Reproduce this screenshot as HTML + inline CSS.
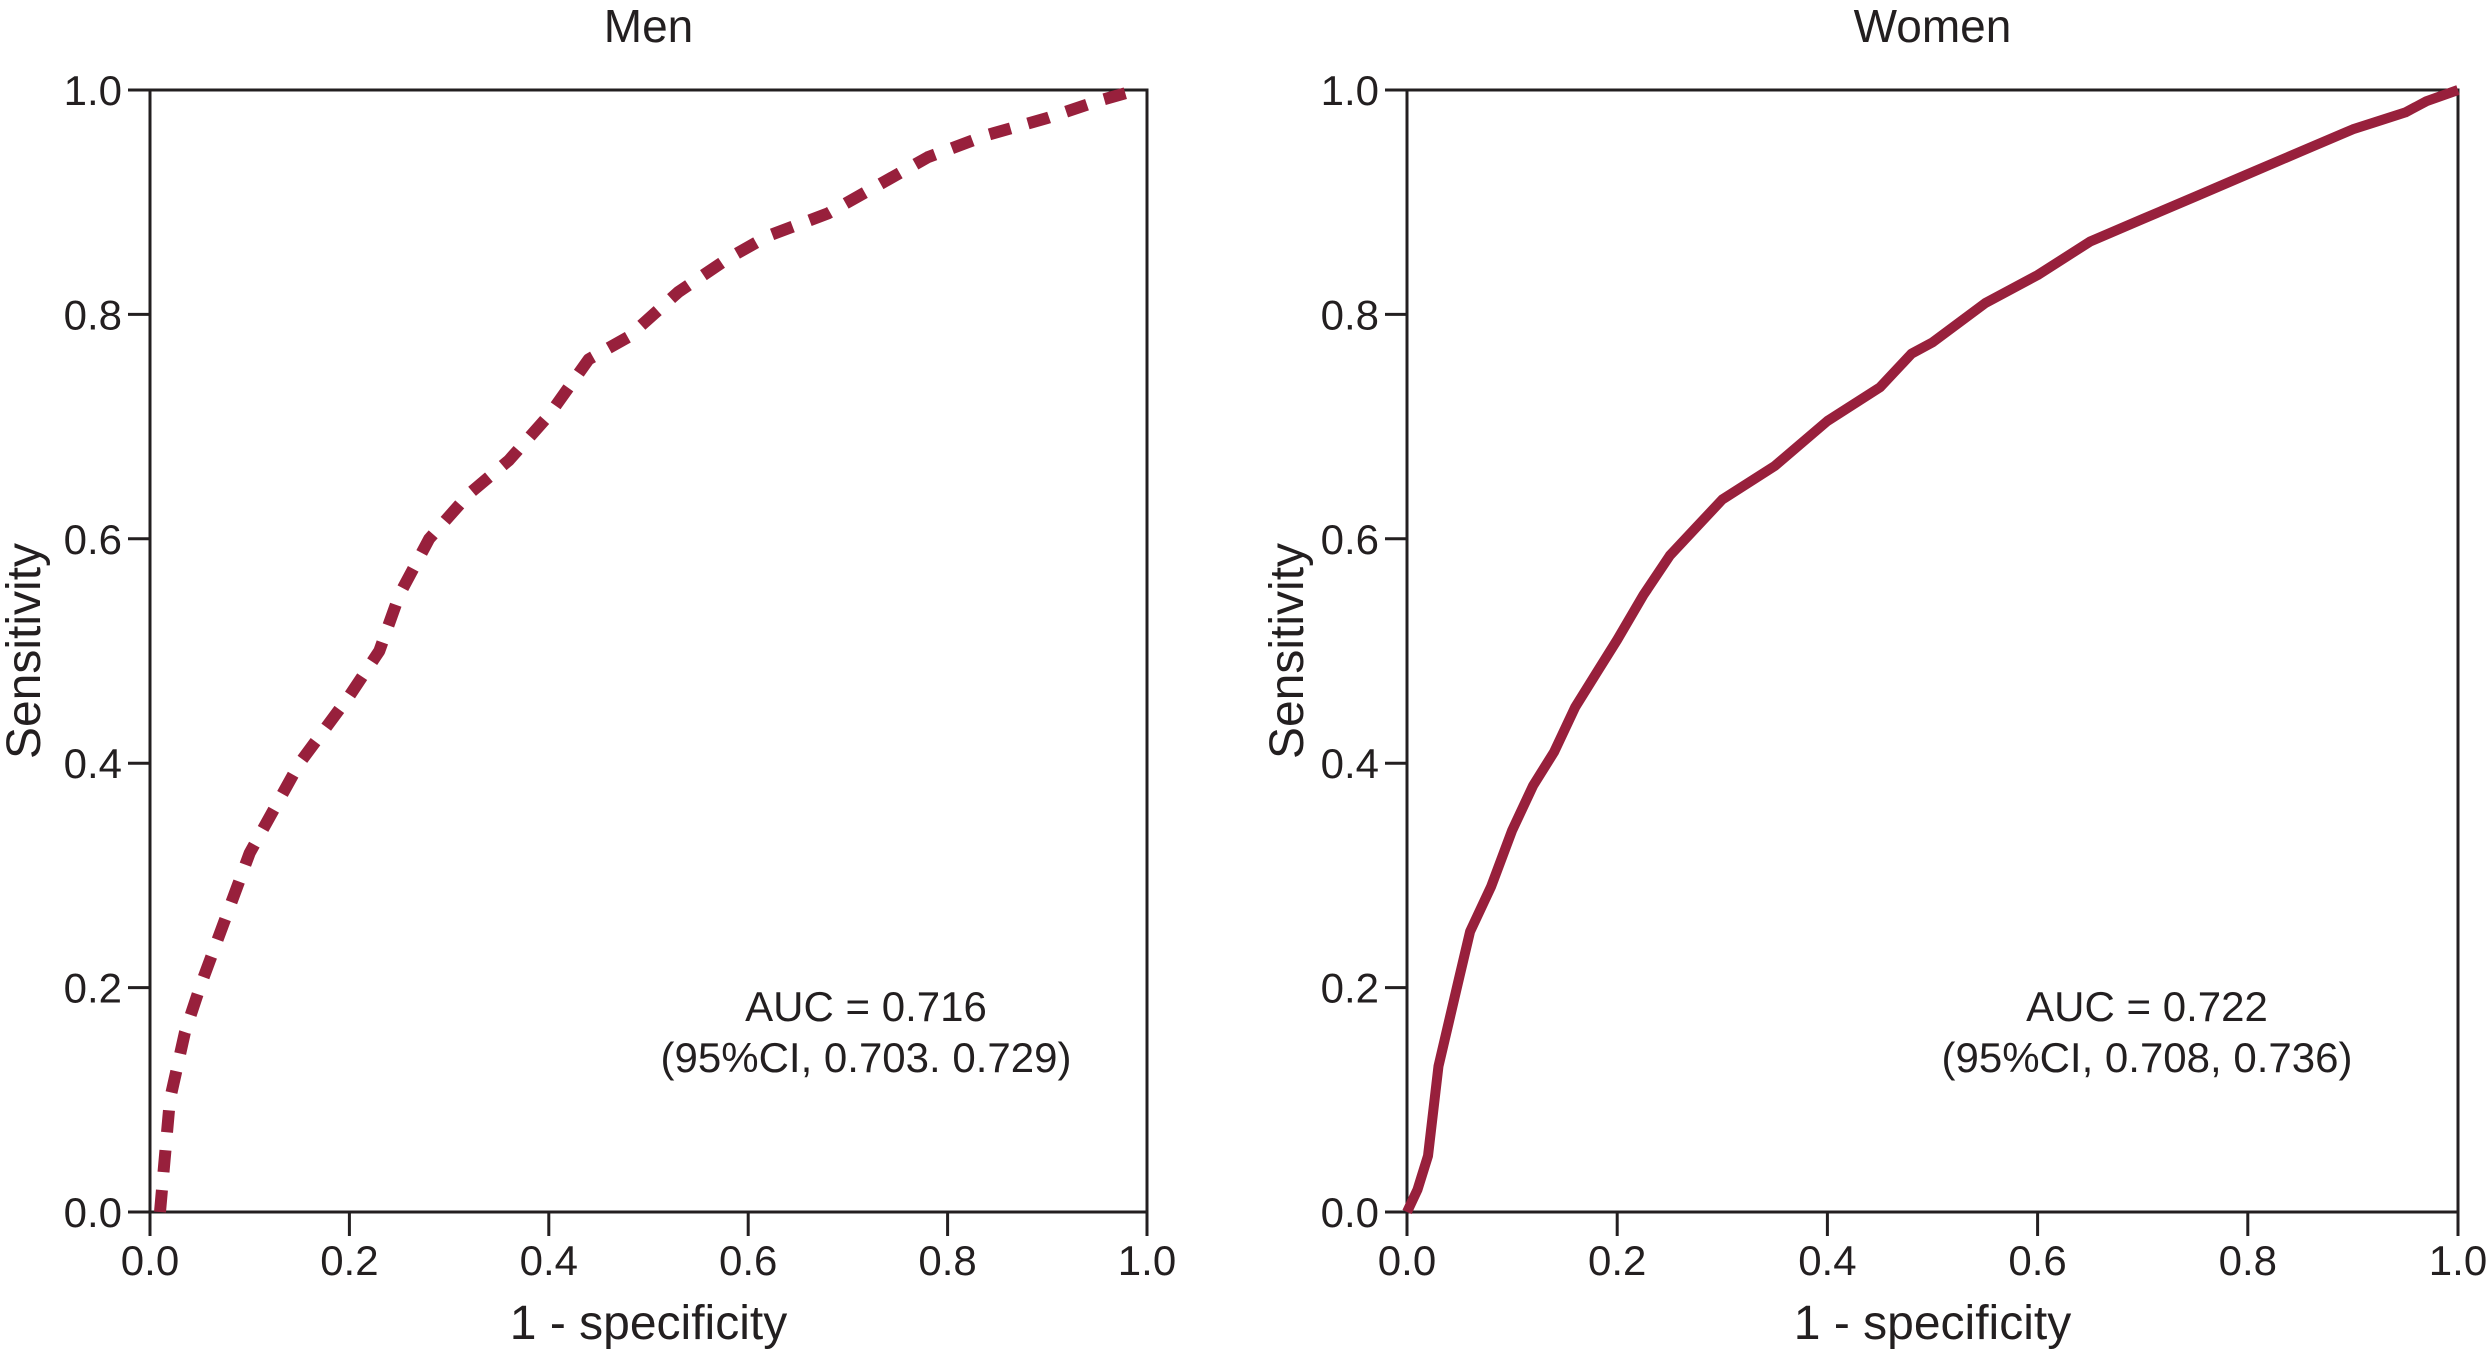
<!DOCTYPE html>
<html><head><meta charset="utf-8">
<style>
html,body{margin:0;padding:0;background:#fff;}
svg{display:block;font-family:"Liberation Sans",Arial,sans-serif;}
</style></head>
<body>
<svg id="fig" width="2492" height="1356" viewBox="0 0 2492 1356"></svg>
<script>
const ticks = [0, 0.2, 0.4, 0.6, 0.8, 1.0];
const tickLabels = ["0.0", "0.2", "0.4", "0.6", "0.8", "1.0"];
const menX = [0.01,0.02,0.035,0.05,0.1,0.15,0.2,0.23,0.25,0.28,0.32,0.36,0.4,0.44,0.48,0.53,0.58,0.62,0.68,0.72,0.78,0.84,0.9,0.95,0.99];
const menY = [0,0.1,0.16,0.2,0.32,0.4,0.46,0.5,0.55,0.6,0.64,0.67,0.71,0.76,0.78,0.82,0.85,0.87,0.89,0.91,0.94,0.96,0.975,0.99,1.0];
const womenX = [0,0.01,0.02,0.03,0.04,0.05,0.06,0.08,0.1,0.12,0.14,0.16,0.18,0.2,0.225,0.25,0.275,0.3,0.35,0.4,0.45,0.48,0.5,0.55,0.6,0.65,0.7,0.75,0.8,0.85,0.9,0.95,0.97,1.0];
const womenY = [0,0.02,0.05,0.13,0.17,0.21,0.25,0.29,0.34,0.38,0.41,0.45,0.48,0.51,0.55,0.585,0.61,0.635,0.665,0.705,0.735,0.765,0.775,0.81,0.835,0.865,0.885,0.905,0.925,0.945,0.965,0.98,0.99,1.0];

const NS = "http://www.w3.org/2000/svg";
const svg = document.getElementById('fig');
function mk(tag, attrs, parent){
  const e = document.createElementNS(NS, tag);
  for (const k in attrs) e.setAttribute(k, attrs[k]);
  (parent||svg).appendChild(e);
  return e;
}
function panel(cfg){
  const g = mk('g', {});
  
  
  const L=cfg.left, R=cfg.right, T=90, B=1212;
  const sx = v => L + v*(R-L);
  const sy = v => B - v*(B-T);
  const frame = mk('rect', {x:L, y:T, width:R-L, height:B-T, fill:'none', stroke:'#231f20', 'stroke-width':3}, g);
  
  
  ticks.forEach((t,i)=>{
    mk('line', {x1:L-22, x2:L, y1:sy(t), y2:sy(t), stroke:'#231f20','stroke-width':3}, g);
    const yl = mk('text', {x:L-28, y:sy(t)+15, 'text-anchor':'end', 'font-size':42, fill:'#231f20'}, g);
    yl.textContent = tickLabels[i];
    
    
    mk('line', {x1:sx(t), x2:sx(t), y1:B, y2:B+24, stroke:'#231f20','stroke-width':3}, g);
    const xl = mk('text', {x:sx(t), y:B+63, 'text-anchor':'middle', 'font-size':42, fill:'#231f20'}, g);
    xl.textContent = tickLabels[i];
    
    
  });
  const title = mk('text', {x:(L+R)/2, y:42, 'text-anchor':'middle', 'font-size':46, fill:'#231f20'}, g);
  title.textContent = cfg.title;
  
  
  const xt = mk('text', {x:(L+R)/2, y:1339, 'text-anchor':'middle', 'font-size':48, fill:'#231f20'}, g);
  xt.textContent = '1 - specificity';
  
  
  const yt = mk('text', {x:0, y:0, 'text-anchor':'middle', 'font-size':48, fill:'#231f20', transform:`translate(${cfg.ytx},651) rotate(-90)`}, g);
  yt.textContent = 'Sensitivity';
  
  
  const d = cfg.xs.map((x,i)=>(i?'L':'M')+sx(x).toFixed(1)+','+sy(cfg.ys[i]).toFixed(1)).join(' ');
  const attrs = {d:d, fill:'none', stroke:'#98203c', 'stroke-width':cfg.dash?12:10, 'stroke-linejoin':'round'};
  if (cfg.dash) attrs['stroke-dasharray'] = '22 18';
  const p = mk('path', attrs, g);
  
  
  const a1 = mk('text', {x:cfg.ax, y:1021, 'text-anchor':'middle', 'font-size':42, fill:'#231f20'}, g);
  a1.textContent = cfg.auc;
  
  
  const a2 = mk('text', {x:cfg.ax, y:1072, 'text-anchor':'middle', 'font-size':42, fill:'#231f20'}, g);
  a2.textContent = cfg.ci;
  
  
}
panel({key:'men', title:'Men', left:150, right:1147, ytx:40, xs:menX, ys:menY, dash:true, ax:866, auc:'AUC = 0.716', ci:'(95%CI, 0.703. 0.729)'});
panel({key:'women', title:'Women', left:1407, right:2458, ytx:1303, xs:womenX, ys:womenY, dash:false, ax:2147, auc:'AUC = 0.722', ci:'(95%CI, 0.708, 0.736)'});
</script>
</body></html>
